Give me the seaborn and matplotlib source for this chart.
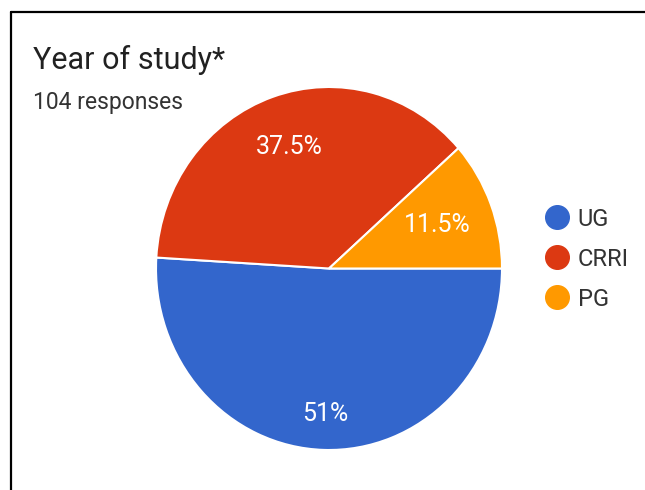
import matplotlib
matplotlib.use("Agg")
import matplotlib.pyplot as plt
from matplotlib.lines import Line2D
import seaborn as sns

# Data
categories = ["UG", "CRRI", "PG"]
counts = [53, 39, 12]
colors = ["#3366CC", "#DC3912", "#FF9900"]
title = "Year of study*"
subtitle = "104 responses"

sns.set_theme(style="white")
plt.rcParams["font.family"] = ["Roboto", "DejaVu Sans"]

W, H = 645, 490
fig = plt.figure(figsize=(W / 100, H / 100), dpi=100)
fig.patch.set_facecolor("white")

# pie axes box (pixels): x 156..502, y 87..450
ax = fig.add_axes([156 / W, (H - 450) / H, 346 / W, 363 / H])


def fmt(p):
    v = round(p, 1)
    s = f"{v:.1f}"
    if s.endswith(".0"):
        s = s[:-2]
    return s + "%"


wedges, texts, autotexts = ax.pie(
    counts,
    colors=colors,
    startangle=0,
    counterclock=False,
    autopct=fmt,
    pctdistance=1.0,
    wedgeprops=dict(edgecolor="white", linewidth=1.5),
    textprops=dict(color="white", fontsize=18),
)
# label radial distances per slice
label_dist = [0.80, 0.71, 0.67]
for t, d in zip(autotexts, label_dist):
    x, y = t.get_position()
    t.set_position((x * d, y * d))

ax.set_aspect("auto")
ax.set_xlim(-1, 1)
ax.set_ylim(-1, 1)
ax.axis("off")

# Title and subtitle
fig.text(33 / W, 1 - 60 / H, title, fontsize=22, color="#212121", va="center", ha="left")
fig.text(33 / W, 1 - 102 / H, subtitle, fontsize=16.5, color="#333333", va="center", ha="left")

# Legend
handles = [Line2D([0], [0], marker="o", linestyle="none", markersize=17,
                  markerfacecolor=c, markeredgecolor=c) for c in colors]
leg = fig.legend(handles, categories, loc="center left",
                 bbox_to_anchor=(527 / W, 1 - 259 / H), frameon=False,
                 fontsize=17, labelspacing=0.72, handletextpad=0.15,
                 handlelength=1.5, borderpad=0)
for t in leg.get_texts():
    t.set_color("#333333")

# Frame lines (top and left)
fig.add_artist(Line2D([11 / W, 1], [1 - 12 / H, 1 - 12 / H], color="black", linewidth=1.6,
                      transform=fig.transFigure))
fig.add_artist(Line2D([11 / W, 11 / W], [0, 1 - 12 / H], color="black", linewidth=1.6,
                      transform=fig.transFigure))

fig.savefig("out.png", dpi=100, facecolor="white")
